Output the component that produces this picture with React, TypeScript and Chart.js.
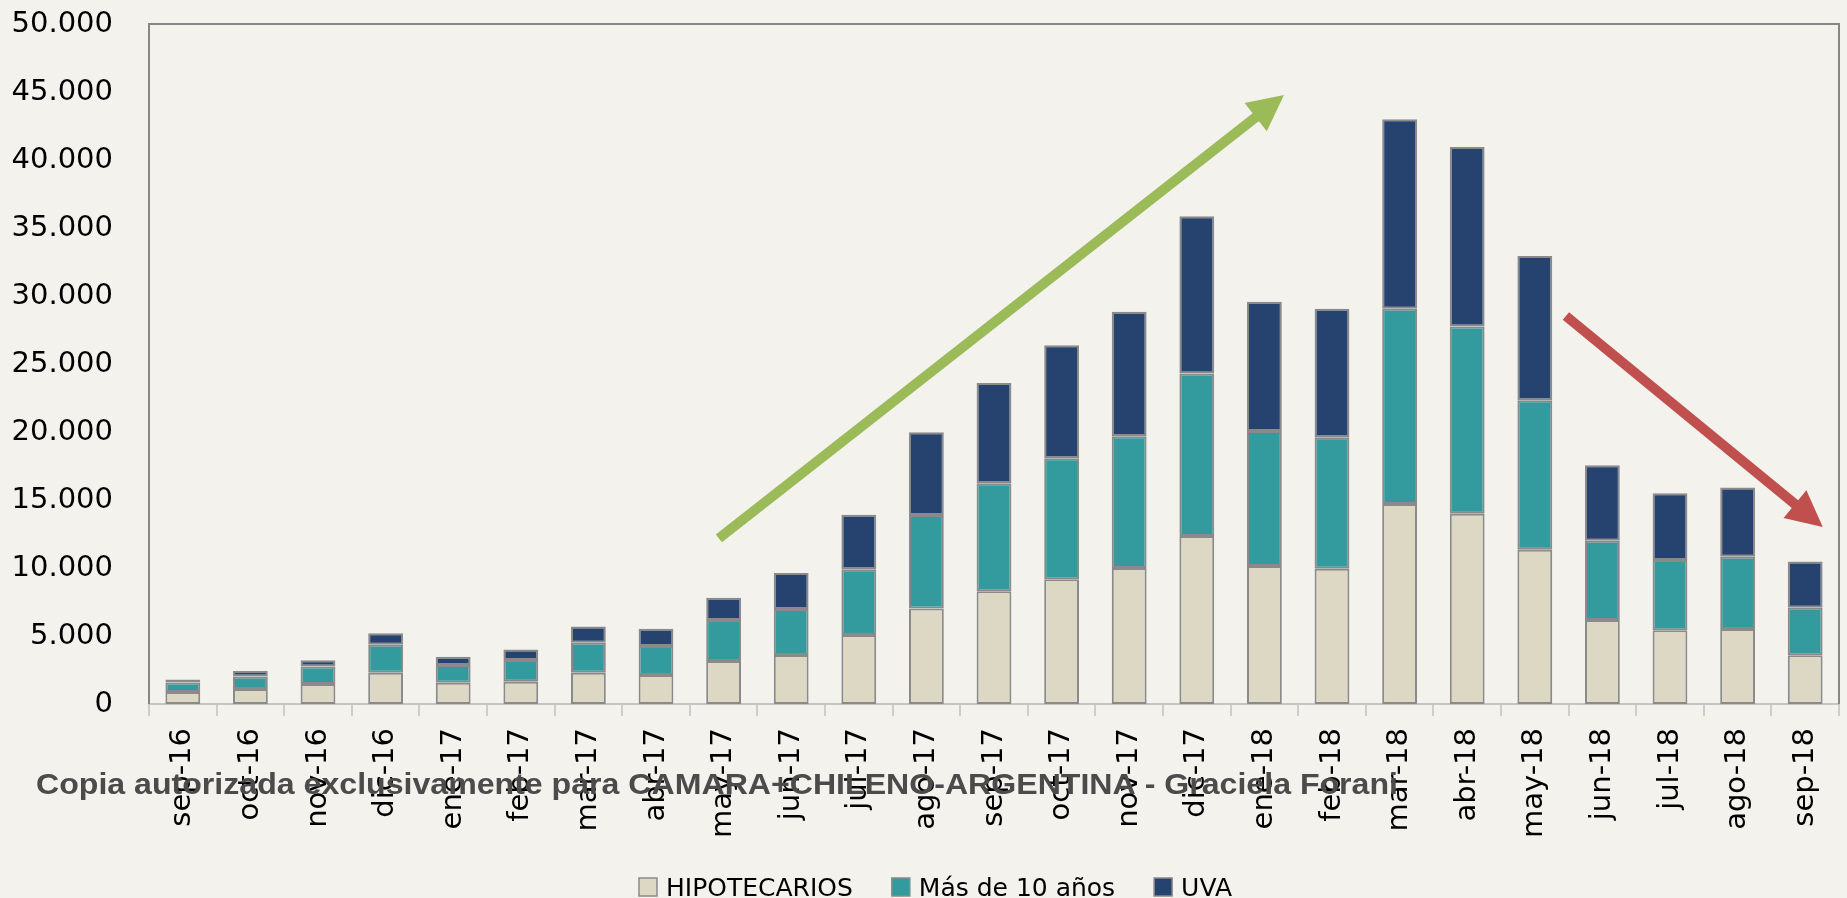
import { useEffect, useRef } from 'react';
import { Chart, registerables } from 'chart.js';

Chart.register(...registerables);

const categories = [
  'sep-16', 'oct-16', 'nov-16', 'dic-16', 'ene-17', 'feb-17', 'mar-17', 'abr-17', 'may-17',
  'jun-17', 'jul-17', 'ago-17', 'sep-17', 'oct-17', 'nov-17', 'dic-17', 'ene-18', 'feb-18',
  'mar-18', 'abr-18', 'may-18', 'jun-18', 'jul-18', 'ago-18', 'sep-18',
];

const hipotecarios = [
  880, 1100, 1470, 2300, 1570, 1640, 2300, 2130, 3160, 3600, 5070, 7030, 8290,
  9170, 10000, 12350, 10150, 9950, 14700, 13980, 11350, 6170, 5420, 5510, 3580,
];

const masDe10Anos = [
  710, 930, 1280, 2060, 1300, 1600, 2210, 2130, 3020, 3390, 4830, 6870, 7940,
  8900, 9680, 11950, 9930, 9670, 14370, 13770, 10990, 5830, 5160, 5310, 3500,
];

const uva = [
  220, 400, 460, 840, 610, 760, 1180, 1280, 1640, 2640, 4020, 6080, 7370,
  8300, 9170, 11570, 9500, 9450, 13930, 13210, 10610, 5560, 4910, 5100, 3390,
];

const seriesNames = ['HIPOTECARIOS', 'Más de 10 años', 'UVA'];
const seriesColors = ['#ddd8c4', '#339b9e', '#264370'];

const yMin = 0;
const yMax = 50000;
const yStep = 5000;

// Trend arrows in data units: [category index, value]
const upArrow = { from: [7.93, 12180], to: [16.29, 44780], color: '#9bbb59' };
const downArrow = { from: [20.46, 28530], to: [24.26, 13010], color: '#c0504d' };

const watermark =
  'Copia autorizada exclusivamente para CAMARA+CHILENO-ARGENTINA - Graciela Forani';

const BG = '#f3f2ed';
const FONT = 'DejaVu Sans';

function fmt(v: number): string {
  return String(Math.round(v)).replace(/\B(?=(\d{3})+(?!\d))/g, '.');
}

function drawArrow(ctx: CanvasRenderingContext2D, x1: number, y1: number, x2: number, y2: number, color: string) {
  const ang = Math.atan2(y2 - y1, x2 - x1);
  const c = Math.cos(ang);
  const s = Math.sin(ang);
  const headLen = 36;
  const headHalf = 18;
  const bx = x2 - headLen * c;
  const by = y2 - headLen * s;
  ctx.save();
  ctx.strokeStyle = color;
  ctx.lineWidth = 10;
  ctx.lineCap = 'butt';
  ctx.beginPath();
  ctx.moveTo(x1, y1);
  ctx.lineTo(bx + 2 * c, by + 2 * s);
  ctx.stroke();
  ctx.fillStyle = color;
  ctx.beginPath();
  ctx.moveTo(x2, y2);
  ctx.lineTo(bx - headHalf * s, by + headHalf * c);
  ctx.lineTo(bx + headHalf * s, by - headHalf * c);
  ctx.closePath();
  ctx.fill();
  ctx.restore();
}

const framePlugin = {
  id: 'frame',
  beforeDatasetsDraw(chart: any) {
    const { ctx, chartArea } = chart;
    ctx.save();
    ctx.strokeStyle = '#878787';
    ctx.lineWidth = 2;
    ctx.beginPath();
    ctx.moveTo(chartArea.left, chartArea.bottom);
    ctx.lineTo(chartArea.left, chartArea.top);
    ctx.lineTo(chartArea.right, chartArea.top);
    ctx.lineTo(chartArea.right, chartArea.bottom);
    ctx.stroke();
    ctx.restore();
  },
};

const arrowsPlugin = {
  id: 'arrows',
  afterDatasetsDraw(chart: any) {
    const { ctx } = chart;
    const xs = chart.scales.x;
    const ys = chart.scales.y;
    [upArrow, downArrow].forEach((a) => {
      drawArrow(
        ctx,
        xs.getPixelForValue(a.from[0]),
        ys.getPixelForValue(a.from[1]),
        xs.getPixelForValue(a.to[0]),
        ys.getPixelForValue(a.to[1]),
        a.color,
      );
    });
  },
};

const legendPlugin = {
  id: 'customLegend',
  afterDraw(chart: any) {
    const { ctx } = chart;
    ctx.save();
    ctx.font = `25px "${FONT}"`;
    const box = 18;
    const gapText = 9;
    const gapItem = 39;
    const widths = seriesNames.map((n) => ctx.measureText(n).width);
    const total = widths.reduce((a, w) => a + box + gapText + w, 0) + gapItem * (seriesNames.length - 1);
    let x = chart.width / 2 - total / 2 + 12;
    const baseline = 896;
    seriesNames.forEach((n, i) => {
      ctx.fillStyle = seriesColors[i];
      ctx.fillRect(x, baseline - box, box, box);
      ctx.strokeStyle = '#8a8a8a';
      ctx.lineWidth = 1.5;
      ctx.strokeRect(x, baseline - box, box, box);
      ctx.fillStyle = '#000000';
      ctx.textBaseline = 'alphabetic';
      ctx.textAlign = 'left';
      ctx.fillText(n, x + box + gapText, baseline);
      x += box + gapText + widths[i] + gapItem;
    });
    ctx.restore();
  },
};

const watermarkPlugin = {
  id: 'watermark',
  afterDraw(chart: any) {
    const { ctx } = chart;
    ctx.save();
    ctx.font = 'bold 30px "Liberation Sans"';
    const w = ctx.measureText(watermark).width;
    const target = 1362;
    ctx.translate(36, 786);
    ctx.scale(target / w, 1);
    ctx.fillStyle = '#4b4b4b';
    ctx.textBaseline = 'middle';
    ctx.textAlign = 'left';
    ctx.fillText(watermark, 0, 0);
    ctx.restore();
  },
};

export default function App() {
  const ref = useRef<HTMLCanvasElement | null>(null);

  useEffect(() => {
    if (!ref.current) return;
    const borderColor = '#8a8a8a';
    const chart = new Chart(ref.current, {
      type: 'bar',
      data: {
        labels: categories,
        datasets: [hipotecarios, masDe10Anos, uva].map((d, i) => ({
          label: seriesNames[i],
          data: d,
          backgroundColor: seriesColors[i],
          borderColor,
          borderWidth: 2,
          borderSkipped: false,
          barPercentage: 1,
          categoryPercentage: 0.515,
        })),
      },
      options: {
        animation: false,
        responsive: true,
        maintainAspectRatio: false,
        layout: { padding: { top: 24, right: 8, bottom: 44, left: 0 } },
        plugins: {
          legend: { display: false },
          tooltip: { enabled: false },
        },
        scales: {
          x: {
            stacked: true,
            grid: {
              display: true,
              drawOnChartArea: false,
              drawTicks: true,
              tickLength: 12,
              color: '#cdcdcd',
              lineWidth: 2,
            },
            border: { display: true, color: '#c4c4c4', width: 2 },
            ticks: {
              autoSkip: false,
              maxRotation: 90,
              minRotation: 90,
              padding: 12,
              color: '#000000',
              font: { family: FONT, size: 29 },
            },
            afterFit(scale: any) {
              scale.height = 150;
              scale.paddingLeft = 0;
              scale.paddingRight = 0;
            },
          },
          y: {
            stacked: true,
            min: yMin,
            max: yMax,
            grid: { display: false, drawTicks: false },
            border: { display: false },
            ticks: {
              stepSize: yStep,
              padding: 36,
              color: '#000000',
              font: { family: FONT, size: 29 },
              callback: (v: any) => fmt(Number(v)),
            },
            afterFit(scale: any) {
              scale.width = 149;
              scale.paddingTop = 0;
              scale.paddingBottom = 0;
            },
          },
        },
      },
      plugins: [framePlugin, arrowsPlugin, legendPlugin, watermarkPlugin],
    });
    return () => chart.destroy();
  }, []);

  return (
    <div
      style={{
        position: 'fixed',
        left: 0,
        top: 0,
        width: '1847px',
        height: '898px',
        background: BG,
      }}
    >
      <canvas ref={ref} />
    </div>
  );
}
